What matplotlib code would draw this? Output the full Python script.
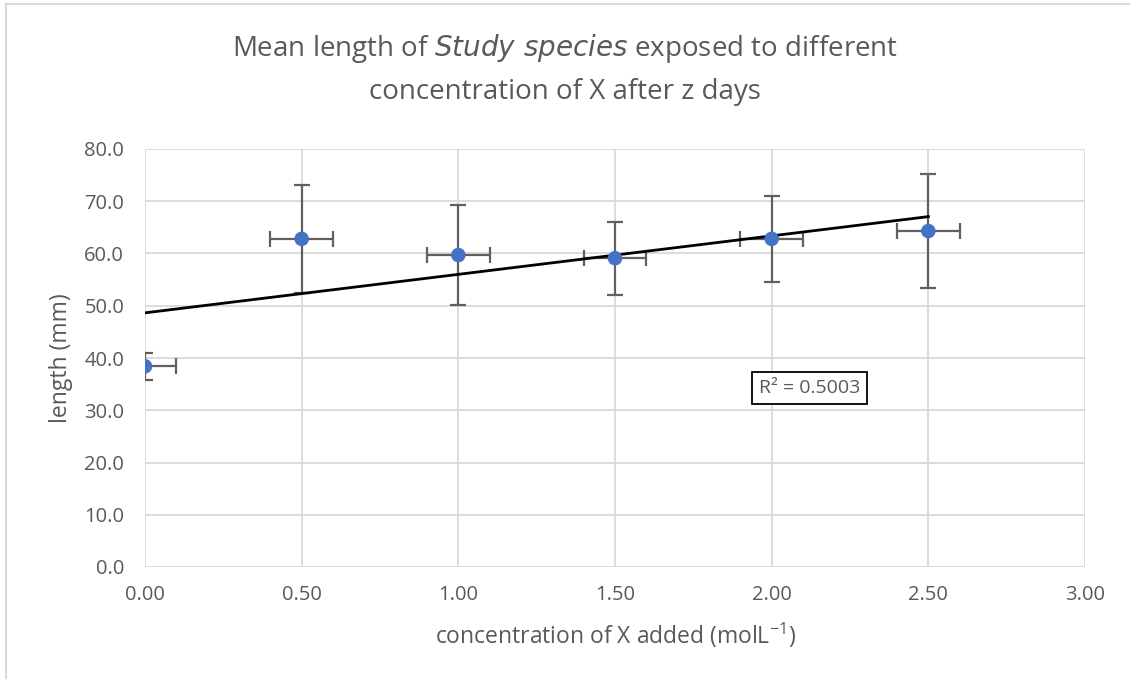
import numpy as np
import matplotlib.pyplot as plt
from matplotlib.lines import Line2D

# data
concentration = [0.0, 0.5, 1.0, 1.5, 2.0, 2.5]
mean_length = [38.4, 62.8, 59.7, 59.1, 62.8, 64.3]
length_err = [2.6, 10.3, 9.5, 7.0, 8.3, 10.9]
conc_err = [0.1, 0.1, 0.1, 0.1, 0.1, 0.1]
r2_label = 'R² = 0.5003'

plt.rcParams['font.family'] = ['Open Sans', 'DejaVu Sans']
plt.rcParams['mathtext.default'] = 'regular'
text_col = '#595959'

fig = plt.figure(figsize=(11.3, 6.79), dpi=100)
ax = fig.add_axes([145 / 1130, 1 - 567 / 679, 940 / 1130, 418 / 679])

# error bars first, points on top
ax.errorbar(concentration, mean_length, yerr=length_err, xerr=conc_err,
            fmt='none', ecolor='#606060', elinewidth=1.6, capsize=5.5,
            capthick=1.6, zorder=3)
ax.scatter(concentration, mean_length, s=110, color='#4472C4', zorder=5,
           edgecolors='none')

# linear trendline
slope, intercept = np.polyfit(concentration, mean_length, 1)
xs = np.array([concentration[0], concentration[-1]])
ax.plot(xs, slope * xs + intercept, color='black', lw=2, zorder=4)

ax.text(2.12, 34.3, r2_label, ha='center', va='center', fontsize=14,
        color=text_col,
        bbox=dict(boxstyle='square,pad=0.35', fc='white', ec='black', lw=1.3))

ax.set_xlim(0, 3)
ax.set_ylim(0, 80)
ax.set_xticks(np.arange(0, 3.01, 0.5))
ax.set_yticks(np.arange(0, 80.1, 10))
ax.set_xticklabels([f'{v:.2f}' for v in np.arange(0, 3.01, 0.5)])
ax.set_yticklabels([f'{v:.1f}' for v in np.arange(0, 80.1, 10)])
ax.grid(True, color='#d9d9d9', lw=1.3)
ax.set_axisbelow(True)
for s in ax.spines.values():
    s.set_visible(False)
ax.tick_params(length=0, labelsize=14.5, labelcolor=text_col)
ax.tick_params(axis='x', pad=13)
ax.tick_params(axis='y', pad=15)

ax.set_xlabel('concentration of X added (molL$^{-1}$)', fontsize=16.5,
              color=text_col, labelpad=11)
ax.set_ylabel('length (mm)', fontsize=16.5, color=text_col, labelpad=8)

fig.text(0.5, 0.929, 'Mean length of $\\it{Study\\ species}$ exposed to different',
         ha='center', va='center', fontsize=20, color=text_col)
fig.text(0.5, 0.865, 'concentration of X after z days',
         ha='center', va='center', fontsize=20, color=text_col)

# partial outer frame of the chart area
fig.add_artist(Line2D([6 / 1130, 1], [1 - 4 / 679, 1 - 4 / 679],
                      transform=fig.transFigure, color='#d9d9d9', lw=1.5))
fig.add_artist(Line2D([6 / 1130, 6 / 1130], [0, 1 - 4 / 679],
                      transform=fig.transFigure, color='#d9d9d9', lw=1.5))

fig.savefig('out.png', dpi=100)
